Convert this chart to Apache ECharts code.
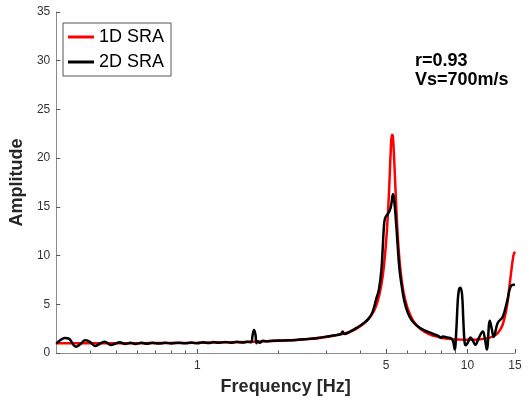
<!DOCTYPE html>
<html>
<head>
<meta charset="utf-8">
<script src="https://cdn.jsdelivr.net/npm/echarts@6/dist/echarts.min.js"></script>
<style>html,body{margin:0;padding:0;background:#fff}#c{width:529px;height:403px}</style>
</head>
<body>
<div id="c"></div>
<script>
// 1D SRA (red)
var freq1D = [0.3,0.4,0.5,0.7,1.0,1.3,1.6,2.0,2.5,3.0,3.5,3.8,4.1,4.3,4.5,4.65,4.8,4.9,5.0,5.08,5.15,5.2,5.25,5.29,5.34,5.4,5.47,5.55,5.65,5.8,6.0,6.3,6.7,7.2,7.8,8.5,9.3,10.0,11.0,12.0,12.6,13.0,13.5,14.0,14.4,14.8,15.0];
var amp1D  = [1.0,1.0,1.0,1.02,1.05,1.1,1.15,1.25,1.4,1.65,2.0,2.35,2.95,3.5,4.3,5.3,7.0,8.8,11.5,14.5,18.0,20.8,22.4,22.3,20.5,17.5,14.0,11.0,8.5,6.2,4.6,3.3,2.45,1.95,1.65,1.45,1.38,1.35,1.38,1.55,1.8,2.1,2.9,4.8,7.5,10.0,10.4];
// 2D SRA (black)
var freq2D = [0.3,0.31,0.323,0.335,0.355,0.37,0.384,0.40,0.418,0.435,0.454,0.478,0.495,0.515,0.54,0.565,0.59,0.62,0.65,0.68,0.72,0.76,0.80,0.85,0.9,0.95,1.0,1.05,1.1,1.15,1.2,1.27,1.33,1.4,1.47,1.53,1.58,1.60,1.62,1.64,1.655,1.67,1.7,1.75,1.8,1.9,2.0,2.2,2.4,2.6,2.8,3.0,3.2,3.4,3.45,3.5,3.7,3.9,4.1,4.3,4.45,4.6,4.7,4.8,4.86,4.9,4.95,5.05,5.15,5.22,5.3,5.35,5.42,5.5,5.6,5.7,5.83,6.0,6.2,6.5,6.9,7.4,7.8,8.0,8.1,8.4,8.7,8.85,8.97,9.1,9.2,9.3,9.42,9.55,9.65,9.75,9.85,10.0,10.27,10.5,10.7,11.0,11.4,11.6,11.8,12.1,12.3,12.5,12.95,13.5,14.05,14.44,14.84,15.0];
var amp2D  = [0.95,1.3,1.55,1.45,0.65,0.95,1.3,1.15,0.72,0.95,1.15,0.82,0.95,1.1,0.92,1.05,0.93,1.05,0.95,1.05,0.97,1.05,0.98,1.06,0.99,1.07,1.0,1.1,1.02,1.12,1.05,1.13,1.05,1.15,1.07,1.15,1.1,1.8,2.35,1.9,1.0,1.2,1.05,1.25,1.2,1.25,1.28,1.3,1.38,1.45,1.55,1.68,1.8,1.95,2.2,1.95,2.25,2.6,3.0,3.5,4.2,5.6,6.5,8.5,11.0,12.8,13.8,14.2,14.6,15.2,16.3,15.8,14.0,11.5,8.6,7.0,5.4,4.2,3.4,2.8,2.35,2.0,1.75,1.55,1.7,1.6,1.5,1.2,0.35,2.5,5.2,6.5,6.7,6.0,3.5,1.2,0.8,1.0,1.6,1.2,0.85,1.5,2.2,1.5,0.35,3.3,2.5,1.65,3.1,3.7,5.4,6.8,7.0,7.0];
// tick labels
var xTickLabels = [1, 5, 10, 15];
var xMinorTicks = [0.4,0.5,0.6,0.7,0.8,0.9,2,3,4,6,7,8,9];
var yTicks = [0,5,10,15,20,25,30,35];

var FONT = '"Liberation Sans", Arial, sans-serif';
function pairs(xs, ys){ return xs.map(function(x,i){ return [x, ys[i]]; }); }
var lg = function(v){ return Math.log10(v); };

var chart = echarts.init(document.getElementById('c'), null, {renderer:'canvas'});
chart.setOption({
  animation: false,
  backgroundColor: '#fff',
  grid: {left: 49, right: 14, top: 12, bottom: 50, containLabel: false},
  legend: {
    orient: 'vertical', left: 63, top: 23,
    padding: [5, 7, 5, 5], itemWidth: 26, itemHeight: 3, itemGap: 7,
    icon: 'rect',
    borderColor: '#555', borderWidth: 1, backgroundColor: '#fff',
    textStyle: {fontSize: 18, fontFamily: FONT, color: '#000', lineHeight: 18},
    data: ['1D SRA', '2D SRA']
  },
  xAxis: [
    {
      type: 'log', logBase: 10, min: 0.3, max: 15,
      axisLine: {show: false}, axisTick: {show: false}, axisLabel: {show: false},
      splitLine: {show: false}, minorTick: {show: false}
    },
    {
      type: 'value', min: lg(0.3), max: lg(15),
      position: 'bottom',
      axisLine: {show: true, onZero: false, lineStyle: {color: '#8c8c8c', width: 1}},
      axisTick: {show: true, inside: true, length: 4, lineStyle: {color: '#555'},
                 customValues: xTickLabels.map(lg)},
      axisLabel: {show: true, customValues: xTickLabels.map(lg), margin: 7,
                  fontSize: 12, fontFamily: FONT, color: '#333',
                  formatter: function(v){ return String(Math.round(Math.pow(10, v))); }},
      splitLine: {show: false},
      name: 'Frequency [Hz]', nameLocation: 'middle', nameGap: 25,
      nameTextStyle: {fontSize: 18, fontWeight: 'bold', fontFamily: FONT, color: '#262626'}
    },
    {
      type: 'value', min: lg(0.3), max: lg(15),
      position: 'bottom',
      axisLine: {show: false, onZero: false},
      axisTick: {show: true, inside: true, length: 2.5, lineStyle: {color: '#555'},
                 customValues: xMinorTicks.map(lg)},
      axisLabel: {show: false}, splitLine: {show: false}
    }
  ],
  yAxis: {
    type: 'value', min: 0, max: 35, interval: 5,
    axisLine: {show: true, onZero: false, lineStyle: {color: '#8c8c8c', width: 1}},
    axisTick: {show: true, inside: true, length: 4, lineStyle: {color: '#555'}},
    axisLabel: {fontSize: 12, fontFamily: FONT, color: '#333', margin: 6},
    splitLine: {show: false},
    name: 'Amplitude', nameLocation: 'middle', nameGap: 24,
    nameTextStyle: {fontSize: 18, fontWeight: 'bold', fontFamily: FONT, color: '#262626'}
  },
  graphic: [{
    type: 'text', left: 415, top: 52,
    style: {text: 'r=0.93\nVs=700m/s', font: 'bold 18px ' + FONT, fill: '#000', lineHeight: 19}
  }],
  series: [
    {name: '1D SRA', type: 'line', xAxisIndex: 0, data: pairs(freq1D, amp1D),
     showSymbol: false, symbol: 'none', smooth: 0.4, color: '#ff0000',
     itemStyle: {color: '#ff0000'},
     lineStyle: {color: '#ff0000', width: 2.5}},
    {name: '2D SRA', type: 'line', xAxisIndex: 0, data: pairs(freq2D, amp2D),
     showSymbol: false, symbol: 'none', smooth: 0.4, color: '#000',
     itemStyle: {color: '#000'},
     lineStyle: {color: '#000', width: 2.5}}
  ]
});
</script>
</body>
</html>
